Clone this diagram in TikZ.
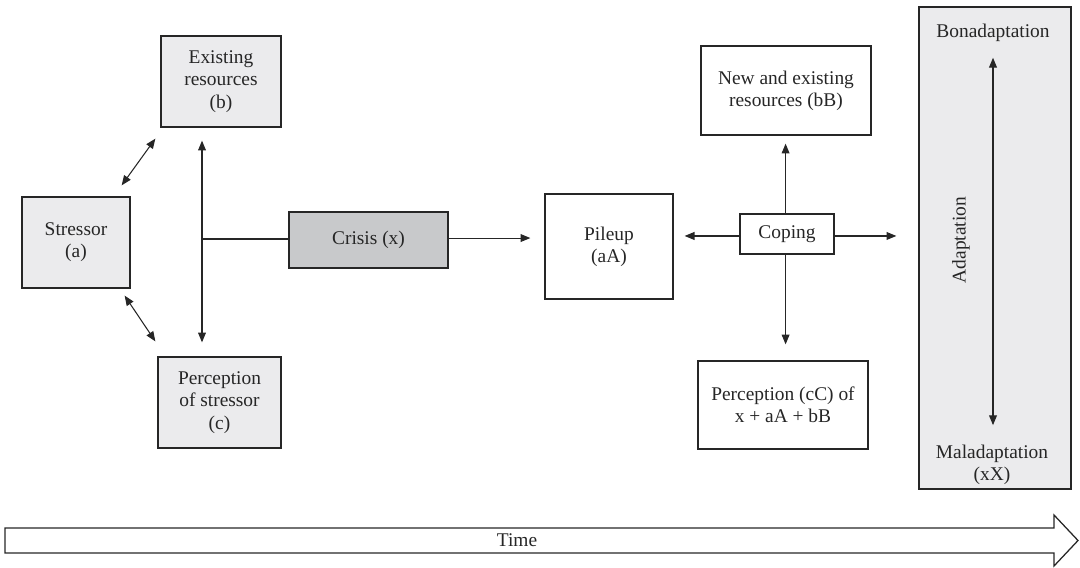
\documentclass[tikz,border=0pt]{standalone}
\usepackage{fontspec}
\setmainfont{Liberation Serif}
\usetikzlibrary{arrows.meta}
\definecolor{lightfill}{HTML}{EBEBED}
\definecolor{crisisfill}{HTML}{C8C9CB}
\definecolor{ink}{HTML}{262626}

\begin{document}
\begin{tikzpicture}[x=0.025cm, y=-0.025cm,
    font=\fontsize{13.8}{15.8}\selectfont,
    box/.style={draw=ink, line width=0.9pt, align=center, inner sep=2pt, text=ink},
    greybox/.style={box, fill=lightfill},
    lbl/.style={text=ink, align=center},
    link/.style={draw=ink, line width=0.75pt},
    arr/.style={link, -{Triangle[length=7pt,width=5.6pt]}},
    biarr/.style={link, {Triangle[length=7pt,width=5.6pt]}-{Triangle[length=7pt,width=5.6pt]}}]
    \useasboundingbox (0,0) rectangle (1080,567);

    % Adaptation column (behind its labels)
    \node[greybox, minimum width=3.8cm, minimum height=12.05cm] (adapt) at (995,248) {};
    \node[lbl] (bona) at (993,33) {Bonadaptation};
    \node[lbl] (mal) at (992,465) {Maladaptation\\(xX)};
    \node[lbl, rotate=90] (adlbl) at (961,240) {Adaptation};
    \draw[biarr, shorten <=0.275cm, shorten >=0.375cm] (bona.south) -- (bona.south |- mal.north);

    % ---- Stressor, existing resources, perception ----
    \node[greybox, minimum width=2.7cm, minimum height=2.275cm] (stress) at (76,242.5) {Stressor\\(a)};
    \node[greybox, minimum width=3cm, minimum height=2.275cm] (resb) at (221,81.5) {Existing\\resources\\(b)};
    \node[greybox, minimum width=3.075cm, minimum height=2.275cm] (percc) at (219.5,402.5) {Perception\\of stressor\\(c)};
    \node[box, fill=crisisfill, minimum width=3.975cm, minimum height=1.4cm] (crisis) at (368.5,240) {Crisis (x)};

    \draw[biarr] ([shift={(-9,-11)}]stress.north east) -- ([shift={(-5,11)}]resb.south west);
    \draw[biarr] ([shift={(-6,7)}]stress.south east) -- ([shift={(-2,-15)}]percc.north west);

    % junction line towards the crisis
    \coordinate (jn) at (202,239);
    \draw[biarr, shorten <=0.325cm, shorten >=0.35cm] (jn |- resb.south) -- (jn |- percc.north);
    \draw[link] (jn) -- (jn -| crisis.west);

    % ---- Pileup and coping ----
    \node[box, minimum width=3.2cm, minimum height=2.625cm] (pileup) at (609,246.5) {Pileup\\(aA)};
    \node[box, minimum width=2.35cm, minimum height=1cm] (coping) at (787,234) {Coping};
    \node[box, minimum width=4.25cm, minimum height=2.225cm] (newres) at (786,90.5) {New and existing\\resources (bB)};
    \node[box, minimum width=4.25cm, minimum height=2.2cm] (perccc) at (783,405) {Perception (cC) of\\x + aA + bB};

    \draw[arr, shorten >=0.35cm] ([yshift=1.4]crisis.east) -- ([yshift=1.4]crisis.east -| pileup.west);
    \draw[arr, shorten >=0.275cm] ([yshift=-1.4]coping.west) -- ([yshift=-1.4]coping.west -| pileup.east);
    \draw[arr, shorten >=0.55cm] ([yshift=-1.4]coping.east) -- ([yshift=-1.4]coping.east -| adapt.west);
    \draw[arr, shorten >=0.2cm] ([xshift=-1]coping.north) -- ([xshift=-1]coping.north |- newres.south);
    \draw[arr, shorten >=0.4cm] ([xshift=-1]coping.south) -- ([xshift=-1]coping.south |- perccc.north);

    % Time axis
    \draw[ink, line width=0.9pt] (5,528) -- (1054,528) -- (1054,515) -- (1078,540.5)
        -- (1054,566) -- (1054,553) -- (5,553) -- cycle;
    \node[lbl] (time) at (517,540.5) {Time};
\end{tikzpicture}
\end{document}
